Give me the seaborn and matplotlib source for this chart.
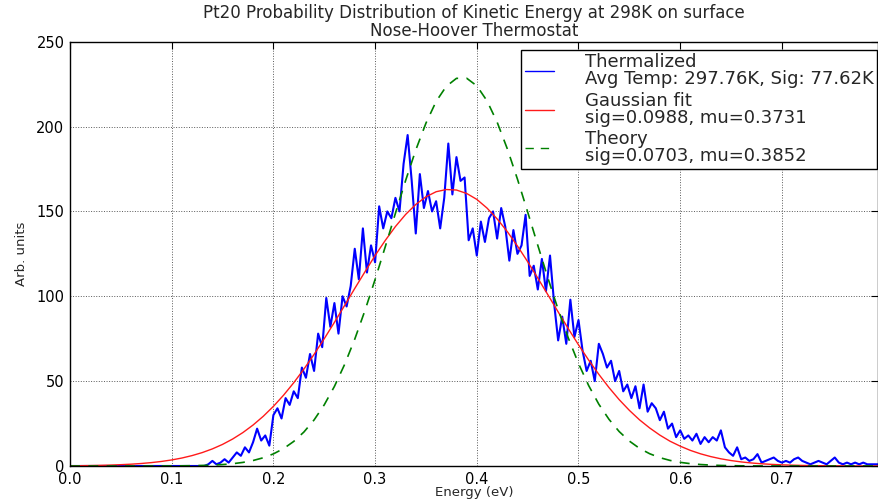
import numpy as np
import pandas as pd
import matplotlib
matplotlib.use("Agg")
import matplotlib.pyplot as plt
import seaborn as sns

# ---------------- data ----------------
# Thermalized histogram: bins every 0.004 eV from 0.120 to 0.800 eV (zero below 0.12)
therm_start = 0.120
therm_step = 0.004
therm_values = [
    0, 0, 0, 0, 1, 3, 1, 2, 4, 2,
    5, 8, 6, 11, 8, 14, 22, 15, 18, 12,
    30, 34, 28, 40, 36, 44, 40, 58, 52, 66,
    56, 78, 70, 99, 82, 96, 78, 100, 94, 106,
    128, 110, 140, 114, 130, 120, 153, 140, 150, 146,
    158, 150, 178, 195, 168, 137, 172, 152, 162, 150,
    156, 140, 158, 190, 160, 182, 168, 170, 133, 140,
    124, 144, 132, 146, 150, 134, 152, 141, 121, 139,
    125, 130, 148, 112, 118, 104, 122, 103, 124, 96,
    74, 88, 72, 98, 76, 86, 68, 56, 62, 50,
    72, 66, 58, 62, 50, 56, 44, 48, 40, 47,
    34, 48, 32, 37, 34, 27, 32, 22, 25, 17,
    21, 16, 18, 15, 19, 13, 17, 14, 17, 15,
    21, 11, 8, 6, 11, 4, 5, 3, 4, 7,
    2, 3, 4, 5, 3, 2, 3, 2, 4, 5,
    3, 2, 1, 2, 3, 2, 1, 3, 5, 2,
    1, 2, 1, 2, 1, 2, 1, 1, 1, 1,
    1,
]

# Smooth curves sampled every 0.01 eV from 0.00 to 0.80
curve_step = 0.01
fit_values = [
    0.13, 0.19, 0.27, 0.39, 0.55, 0.78, 1.07, 1.47, 2.00, 2.69,
    3.57, 4.70, 6.13, 7.90, 10.08, 12.73, 15.92, 19.70, 24.14, 29.27,
    35.13, 41.73, 49.06, 57.10, 65.77, 75.00, 84.65, 94.56, 104.6, 114.4,
    124.0, 132.9, 141.1, 148.2, 154.1, 158.6, 161.6, 162.9, 162.6, 160.6,
    157.1, 152.0, 145.6, 138.1, 129.6, 120.4, 110.7, 100.8, 90.8, 80.9,
    71.4, 62.4, 54.0, 46.2, 39.1, 32.8, 27.2, 22.4, 18.2, 14.6,
    11.7, 9.20, 7.18, 5.55, 4.24, 3.21, 2.40, 1.78, 1.31, 0.95,
    0.68, 0.49, 0.34, 0.24, 0.16, 0.11, 0.08, 0.05, 0.03, 0.02,
    0.01,
]
theory_values = [
    0.0, 0.0, 0.0, 0.0, 0.0, 0.0, 0.0, 0.01, 0.02, 0.03,
    0.06, 0.11, 0.19, 0.32, 0.52, 0.85, 1.35, 2.11, 3.23, 4.85,
    7.13, 10.26, 14.48, 20.02, 27.13, 36.04, 46.89, 59.80, 74.75, 91.55,
    109.9, 129.2, 148.9, 168.2, 186.2, 202.0, 214.8, 223.7, 228.4, 228.5,
    224.0, 215.2, 202.6, 186.9, 169.0, 149.7, 130.0, 110.6, 92.2, 75.4,
    60.4, 47.4, 36.4, 27.5, 20.3, 14.7, 10.4, 7.23, 4.92, 3.29,
    2.15, 1.38, 0.87, 0.53, 0.32, 0.19, 0.11, 0.06, 0.03, 0.02,
    0.01, 0.0, 0.0, 0.0, 0.0, 0.0, 0.0, 0.0, 0.0, 0.0,
    0.0,
]

label_therm = "Thermalized\nAvg Temp: 297.76K, Sig: 77.62K"
label_fit = "Gaussian fit\nsig=0.0988, mu=0.3731"
label_theory = "Theory\nsig=0.0703, mu=0.3852"
title = "Pt20 Probability Distribution of Kinetic Energy at 298K on surface\nNose-Hoover Thermostat"
x_ticks = [0.0, 0.1, 0.2, 0.3, 0.4, 0.5, 0.6, 0.7]
y_ticks = [0, 50, 100, 150, 200, 250]

# ---------------- tables ----------------
therm_E = np.round(therm_start + therm_step * np.arange(len(therm_values)), 4)
therm_df = pd.DataFrame({"E": np.concatenate([[0.0], therm_E]),
                         "v": np.concatenate([[0.0], therm_values])})
curve_E = np.round(curve_step * np.arange(len(fit_values)), 4)
fit_df = pd.DataFrame({"E": curve_E, "v": fit_values})
theory_df = pd.DataFrame({"E": curve_E, "v": theory_values})

# ---------------- plot ----------------
sns.set_style("white")
plt.rcParams["font.family"] = ["DejaVu Sans"]

fig = plt.figure(figsize=(8.79, 4.99), dpi=100)
W, H = 879.0, 499.0
ax = fig.add_axes([70 / W, 33 / H, 808.5 / W, 424.3 / H])

sns.lineplot(data=therm_df, x="E", y="v", ax=ax, color="#0000ff", lw=1.5,
             label=label_therm, estimator=None, sort=False)
sns.lineplot(data=fit_df, x="E", y="v", ax=ax, color="#ff1a1a", lw=1.0,
             label=label_fit, estimator=None, sort=False)
sns.lineplot(data=theory_df, x="E", y="v", ax=ax, color="#008000", lw=1.2,
             label=label_theory, estimator=None, sort=False)
ax.lines[-1].set_dashes([6, 5])

ax.set_xlim(0, 0.795)
ax.set_ylim(0, 250)
ax.set_xticks(x_ticks)
ax.set_xticklabels([f"{t:.1f}" for t in x_ticks])
ax.set_yticks(y_ticks)
ax.set_yticklabels([str(t) for t in y_ticks])

ax.grid(True, color="0.35", linestyle=":", linewidth=0.7)
ax.tick_params(direction="in", length=5, width=0.8, top=True, right=True,
               labelsize=10.5, pad=4, colors="black")
for s in ax.spines.values():
    s.set_visible(True)
    s.set_color("black")
    s.set_linewidth(1.0)

ax.set_xlabel("Energy (eV)", fontsize=9.5)
ax.xaxis.set_label_coords(0.5, -0.046)
ax.set_ylabel("Arb. units", fontsize=9.5)
ax.yaxis.set_label_coords(-0.052, 0.5)
ax.set_title(title, fontsize=12, pad=4, linespacing=1.0)

leg = ax.legend(loc="upper right", bbox_to_anchor=((877 - 70) / 808.5, 1 - 8 / 424.3),
                borderaxespad=0, fontsize=13, frameon=True, fancybox=False,
                handlelength=1.6, handletextpad=1.7, labelspacing=0.2,
                borderpad=0.2)
leg.get_frame().set_edgecolor("black")
leg.get_frame().set_linewidth(1.0)
leg.get_frame().set_alpha(1.0)
for t in leg.get_texts():
    t.set_linespacing(0.92)
for h in leg.get_lines():
    h.set_linewidth(1.0)

fig.savefig("out.png", dpi=100)
